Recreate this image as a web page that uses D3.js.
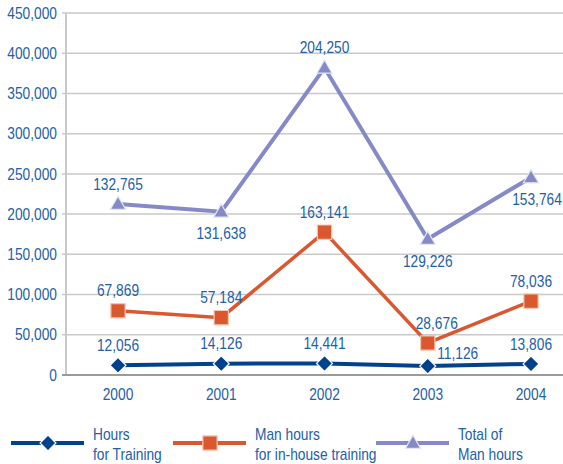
<!DOCTYPE html>
<html>
<head>
<meta charset="utf-8">
<script src="https://cdn.jsdelivr.net/npm/d3@7"></script>
<style>
  body { margin: 0; background: #fff; }
  text { font-family: "Liberation Sans", Arial, sans-serif; font-size: 16px; }
</style>
</head>
<body>
<div id="chart"></div>
<script>
const years = ['2000', '2001', '2002', '2003', '2004'];
const hoursTraining = [12056, 14126, 14441, 11126, 13806];
const inHouse = [67869, 57184, 163141, 28676, 78036];
const totalMan = [132765, 131638, 204250, 129226, 153764];
const yTicks = [0, 50000, 100000, 150000, 200000, 250000, 300000, 350000, 400000, 450000];
const seriesNames = [['Hours', 'for Training'], ['Man hours', 'for in-house training'], ['Total of', 'Man hours']];
// where each value label sits relative to its point
const labelPlace = [
  ['up', 'up', 'up', 'right', 'up'],
  ['up', 'up', 'up', 'upright', 'up'],
  ['up', 'down', 'up', 'down', 'downright']
];

const width = 563, height = 464;
const textColor = '#2360a8';
const colors = ['#00428c', '#d9582f', '#8589c6'];
const edges = ['#ffffff', '#f5c6b2', '#e4e5f3'];
const narrow = 0.86; // squeeze Liberation Sans into a condensed face

const svg = d3.select('#chart').append('svg')
  .attr('width', width)
  .attr('height', height);

// put text at (px, py) and squeeze it horizontally
function place(sel, px, py) {
  return sel
    .attr('transform', (d, i) => `translate(${px(d, i)},${py(d, i)}) scale(${narrow},1)`)
    .attr('dy', '0.35em')
    .style('fill', textColor);
}

const x = d3.scalePoint()
  .domain(years)
  .range([118, 531]);

const y = d3.scaleLinear()
  .domain([0, 450000])
  .range([375, 13]);

// grid
svg.append('g')
  .selectAll('line')
  .data(yTicks.filter(d => d > 0))
  .enter().append('line')
    .attr('x1', 62).attr('x2', width)
    .attr('y1', d => y(d)).attr('y2', d => y(d))
    .style('stroke', '#c9c9c9')
    .style('stroke-width', 1.5);

svg.append('line')
  .attr('x1', 66).attr('x2', 66)
  .attr('y1', y(450000)).attr('y2', y(0))
  .style('stroke', '#c9c9c9').style('stroke-width', 2);

svg.append('line')
  .attr('x1', 62).attr('x2', width)
  .attr('y1', y(0)).attr('y2', y(0))
  .style('stroke', '#9a9a9a').style('stroke-width', 2);

const fmt = d3.format(',');

svg.append('g')
  .selectAll('text')
  .data(yTicks)
  .enter().append('text')
    .call(place, () => 57, d => y(d))
    .attr('text-anchor', 'end')
    .text(d => d === 0 ? '0' : fmt(d));

svg.append('g')
  .selectAll('text')
  .data(years)
  .enter().append('text')
    .call(place, d => x(d), () => 394)
    .attr('text-anchor', 'middle')
    .text(d => d);

// stacked series
const rows = years.map((yr, i) => ({ year: yr, a: hoursTraining[i], b: inHouse[i], c: totalMan[i] }));
const stacked = d3.stack().keys(['a', 'b', 'c'])(rows);

const line = d3.line()
  .x(d => x(d.data.year))
  .y(d => y(d[1]));

const markerPath = [
  d3.symbol().type(d3.symbolDiamond2).size(160)(),
  d3.symbol().type(d3.symbolSquare2).size(260)(),
  d3.symbol().type(d3.symbolTriangle2).size(165)()
];
const rawVals = [hoursTraining, inHouse, totalMan];
const widths = [4, 3.5, 4];

stacked.forEach((s, k) => {
  svg.append('path')
    .datum(s)
    .attr('d', line)
    .style('fill', 'none')
    .style('stroke', colors[k])
    .style('stroke-width', widths[k]);

  svg.append('g')
    .selectAll('path')
    .data(s)
    .enter().append('path')
      .attr('transform', d => `translate(${x(d.data.year)},${y(d[1]) + (k === 2 ? 1 : 0)})`)
      .attr('d', markerPath[k])
      .style('fill', colors[k])
      .style('stroke', edges[k])
      .style('stroke-width', 1.2);

  svg.append('g')
    .selectAll('text')
    .data(s)
    .enter().append('text')
      .call(place,
        (d, i) => {
          const p = labelPlace[k][i];
          let dx = 0;
          if (p === 'right') dx = 30;
          if (p === 'upright') dx = 9;
          if (p === 'downright') dx = 6;
          return x(d.data.year) + dx;
        },
        (d, i) => {
          const p = labelPlace[k][i];
          let dy = -20;
          if (p === 'right') dy = -13;
          if (p === 'down' || p === 'downright') dy = 22;
          if (k === 2 && p === 'up') dy = -20;
          return y(d[1]) + dy;
        })
      .attr('text-anchor', 'middle')
      .text((d, i) => fmt(rawVals[k][i]));
});

// legend
const legendX = [11, 173, 376];
const legend = svg.append('g').selectAll('g')
  .data(seriesNames)
  .enter().append('g')
    .attr('transform', (d, i) => `translate(${legendX[i]},443)`);

legend.append('line')
  .attr('x1', 0).attr('x2', 73)
  .attr('y1', 0).attr('y2', 0)
  .style('stroke', (d, i) => colors[i])
  .style('stroke-width', 4);

legend.append('path')
  .attr('transform', (d, i) => `translate(37,${i === 2 ? 1 : 0})`)
  .attr('d', (d, i) => markerPath[i])
  .style('fill', (d, i) => colors[i])
  .style('stroke', (d, i) => edges[i])
  .style('stroke-width', 1.2);

legend.append('text')
  .call(place, () => 82, () => -9)
  .text(d => d[0]);

legend.append('text')
  .call(place, () => 82, () => 11)
  .text(d => d[1]);
</script>
</body>
</html>
